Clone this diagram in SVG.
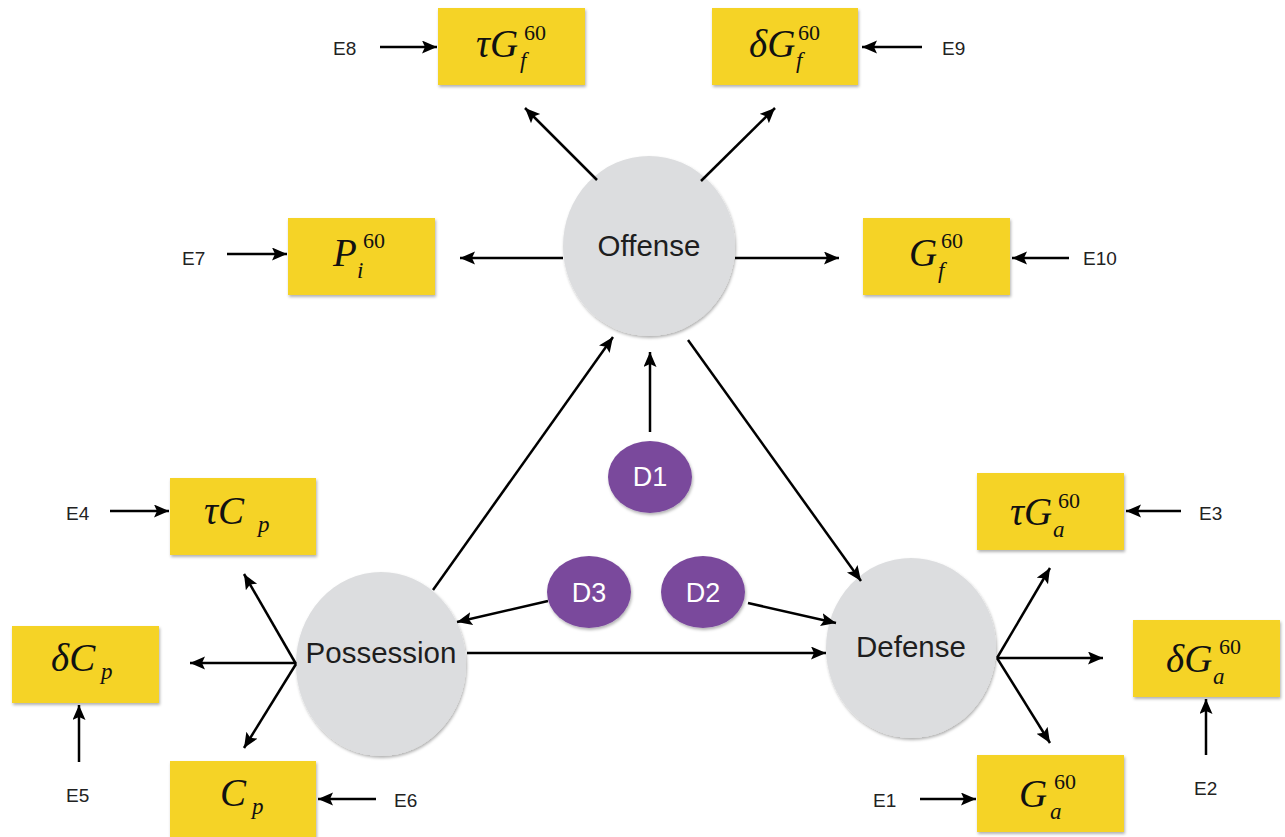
<svg xmlns="http://www.w3.org/2000/svg" width="1285" height="837" viewBox="0 0 1285 837">
<defs>
<marker id="ah" markerUnits="userSpaceOnUse" markerWidth="16" markerHeight="14" refX="15" refY="6.5" orient="auto">
<path d="M0,0 L15,6.5 L0,13 L3,6.5 z" fill="#000"/>
</marker>
<filter id="sh" x="-10%" y="-10%" width="125%" height="130%">
<feDropShadow dx="1" dy="2" stdDeviation="1.5" flood-color="#000" flood-opacity="0.3"/>
</filter>
</defs>
<style>
.box{fill:#F5D327;filter:url(#sh)}
.lat{fill:#DCDDDF;filter:url(#sh)}
.dist{fill:#7A4A9C;filter:url(#sh)}
.m{font-family:"Liberation Serif","Times New Roman",serif;font-style:italic;font-size:39px;fill:#111}
.sup{font-style:normal;font-size:22px}
.sub{font-size:23px}
.e{font-family:"Liberation Sans",Arial,sans-serif;font-size:19px;fill:#222}
.nl{font-family:"Liberation Sans",Arial,sans-serif;font-size:29.5px;fill:#1e1e1e;text-anchor:middle}
.dl{font-family:"Liberation Sans",Arial,sans-serif;font-size:27px;fill:#fff;text-anchor:middle}
.c line{stroke:#000;stroke-width:2.5;marker-end:url(#ah)}
</style>
<rect width="1285" height="837" fill="#fff"/>

<g id="tauGf">
<rect class="box" x="438" y="8" width="147" height="77"/>
<text class="m" x="476" y="57">τG<tspan class="sup" x="524" y="40">60</tspan><tspan class="sub" x="520" y="68">f</tspan></text>
</g>
<g id="deltaGf">
<rect class="box" x="712" y="8" width="146" height="77"/>
<text class="m" x="749" y="57">δG<tspan class="sup" x="798" y="40">60</tspan><tspan class="sub" x="796" y="68">f</tspan></text>
</g>
<g id="Pi">
<rect class="box" x="288" y="218" width="147" height="77"/>
<text class="m" x="333" y="266">P<tspan class="sup" x="363" y="248">60</tspan><tspan class="sub" x="357" y="278">i</tspan></text>
</g>
<g id="Gf">
<rect class="box" x="863" y="218" width="147" height="77"/>
<text class="m" x="909" y="266">G<tspan class="sup" x="941" y="248">60</tspan><tspan class="sub" x="938" y="278">f</tspan></text>
</g>
<g id="tauCp">
<rect class="box" x="170" y="478" width="146" height="77"/>
<text class="m" x="204" y="524">τC<tspan class="sub" x="258" y="532">p</tspan></text>
</g>
<g id="deltaCp">
<rect class="box" x="12" y="626" width="147" height="77"/>
<text class="m" x="51" y="671">δC<tspan class="sub" x="101" y="679">p</tspan></text>
</g>
<g id="Cp">
<rect class="box" x="170" y="761" width="146" height="77"/>
<text class="m" x="220" y="806">C<tspan class="sub" x="252" y="814">p</tspan></text>
</g>
<g id="tauGa">
<rect class="box" x="977" y="473" width="147" height="77"/>
<text class="m" x="1010" y="525">τG<tspan class="sup" x="1058" y="508">60</tspan><tspan class="sub" x="1053" y="537">a</tspan></text>
</g>
<g id="deltaGa">
<rect class="box" x="1133" y="620" width="147" height="77"/>
<text class="m" x="1166" y="672">δG<tspan class="sup" x="1219" y="654">60</tspan><tspan class="sub" x="1213" y="684">a</tspan></text>
</g>
<g id="Ga">
<rect class="box" x="977" y="755" width="147" height="77"/>
<text class="m" x="1019" y="807">G<tspan class="sup" x="1054" y="789">60</tspan><tspan class="sub" x="1050" y="819">a</tspan></text>
</g>

<g id="Offense">
<ellipse class="lat" cx="649" cy="246" rx="86" ry="90"/>
<text class="nl" x="649" y="256">Offense</text>
</g>
<g id="Possession">
<ellipse class="lat" cx="381" cy="664" rx="85" ry="92"/>
<text class="nl" x="381" y="663">Possession</text>
</g>
<g id="Defense">
<ellipse class="lat" cx="911" cy="648" rx="85" ry="90"/>
<text class="nl" x="911" y="657">Defense</text>
</g>
<g id="D1">
<ellipse class="dist" cx="650" cy="477" rx="42" ry="36"/>
<text class="dl" x="650" y="486">D1</text>
</g>
<g id="D3">
<ellipse class="dist" cx="589" cy="592" rx="42" ry="36"/>
<text class="dl" x="589" y="602">D3</text>
</g>
<g id="D2">
<ellipse class="dist" cx="703" cy="592" rx="42" ry="36"/>
<text class="dl" x="703" y="602">D2</text>
</g>

<g id="E-labels">
<text class="e" x="333" y="55">E8</text>
<text class="e" x="942" y="55">E9</text>
<text class="e" x="182" y="265">E7</text>
<text class="e" x="1083" y="265">E10</text>
<text class="e" x="66" y="520">E4</text>
<text class="e" x="66" y="802">E5</text>
<text class="e" x="394" y="807">E6</text>
<text class="e" x="1199" y="520">E3</text>
<text class="e" x="1194" y="795">E2</text>
<text class="e" x="873" y="807">E1</text>
</g>

<g id="connectors" class="c">
<line x1="597" y1="180" x2="525" y2="108"/>
<line x1="701" y1="181" x2="775" y2="108"/>
<line x1="563" y1="258" x2="460" y2="258"/>
<line x1="735" y1="258" x2="839" y2="258"/>
<line x1="433" y1="590" x2="613" y2="337"/>
<line x1="650" y1="432" x2="650" y2="352"/>
<line x1="688" y1="340" x2="861" y2="581"/>
<line x1="548" y1="601" x2="457" y2="622"/>
<line x1="748" y1="603" x2="836" y2="623"/>
<line x1="467" y1="653" x2="826" y2="653"/>
<line x1="296" y1="664" x2="244" y2="574"/>
<line x1="296" y1="663" x2="190" y2="663"/>
<line x1="296" y1="664" x2="244" y2="748"/>
<line x1="997" y1="658" x2="1050" y2="568"/>
<line x1="997" y1="658" x2="1103" y2="658"/>
<line x1="997" y1="658" x2="1050" y2="743"/>
<line x1="380" y1="47" x2="437" y2="47"/>
<line x1="922" y1="47" x2="862" y2="47"/>
<line x1="227" y1="254" x2="287" y2="254"/>
<line x1="1069" y1="258" x2="1012" y2="258"/>
<line x1="110" y1="511" x2="169" y2="511"/>
<line x1="79" y1="762" x2="79" y2="705"/>
<line x1="376" y1="799" x2="318" y2="799"/>
<line x1="1181" y1="511" x2="1126" y2="511"/>
<line x1="1206" y1="755" x2="1206" y2="699"/>
<line x1="920" y1="799" x2="976" y2="799"/>
</g>
</svg>
